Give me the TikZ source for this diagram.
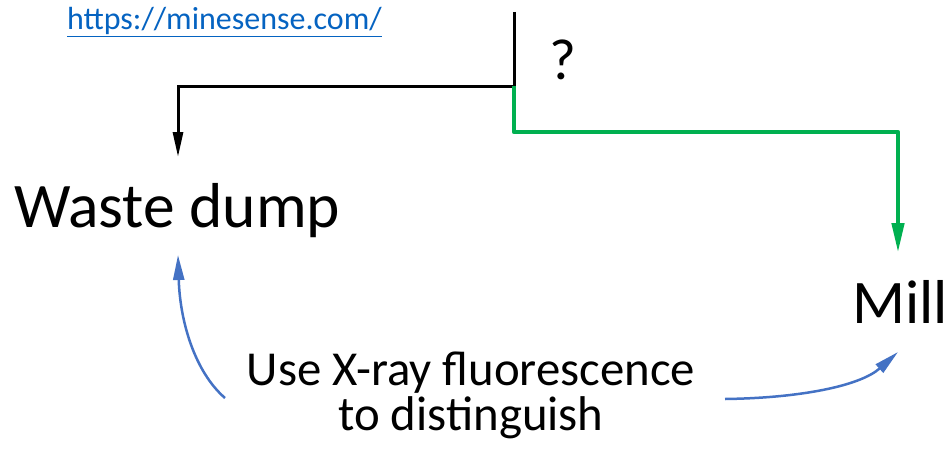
\documentclass[tikz,border=0pt]{standalone}
\usepackage{fontspec}
\setmainfont{Carlito}
\usetikzlibrary{arrows.meta}
\definecolor{flowgreen}{HTML}{00B050}
\definecolor{curveblue}{HTML}{4472C4}
\definecolor{linkblue}{HTML}{0563C1}
\tikzset{
  lbl/.style={inner sep=0pt, outer sep=0pt, anchor=base west},
  blackflow/.style={line width=3pt, black, -{Triangle[length=25pt,width=10pt]}},
  greenflow/.style={line width=4.5pt, flowgreen, line join=round, -{Triangle[length=30pt,width=12pt]}},
  bluecurve/.style={line width=2.5pt, curveblue, -{Triangle[length=25pt,width=11pt]}}
}
\begin{document}
\begin{tikzpicture}[x=1pt,y=-1pt]
\useasboundingbox (0,0) rectangle (950,452);
% texts
\node[lbl, font=\fontsize{32}{38}\selectfont, text=linkblue] (url) at (67,30) {\underline{https://minesense.com/}};
\node[lbl, font=\fontsize{63.5}{76}\selectfont] (waste) at (14,227) {Waste dump};
\node[lbl, font=\fontsize{62}{74}\selectfont] (mill) at (852,323) {Mill};
\node[lbl, font=\fontsize{58}{70}\selectfont] (q) at (549,80) {?};
\node[inner sep=0pt, anchor=base, font=\fontsize{48.8}{58}\selectfont] (xrfa) at (471,385) {Use X-ray fluorescence};
\node[inner sep=0pt, anchor=base, font=\fontsize{48.8}{58}\selectfont] (xrfb) at (471,430) {to distinguish};
% connector points
\coordinate (src) at (514,12);
\coordinate (split) at (514,86);
\coordinate (wasteIn) at (178,157);
\coordinate (millIn) at (898,253);
\coordinate (bend) at (514,132);
\coordinate (curveL) at (225,398);
\coordinate (curveR) at (725,399);
\coordinate (wasteUp) at (178,255);
\coordinate (millUp) at (898,352);
% flows
\draw[line width=3pt] (src) -- (split);
\draw[blackflow] (split) -| (wasteIn);
\draw[greenflow] (split) -- (bend) -| (millIn);
\draw[bluecurve] (curveL) .. controls (195,372) and (180,322) .. (wasteUp);
\draw[bluecurve] (curveR) .. controls (800,398) and (860,386) .. (millUp);
\end{tikzpicture}
\end{document}
